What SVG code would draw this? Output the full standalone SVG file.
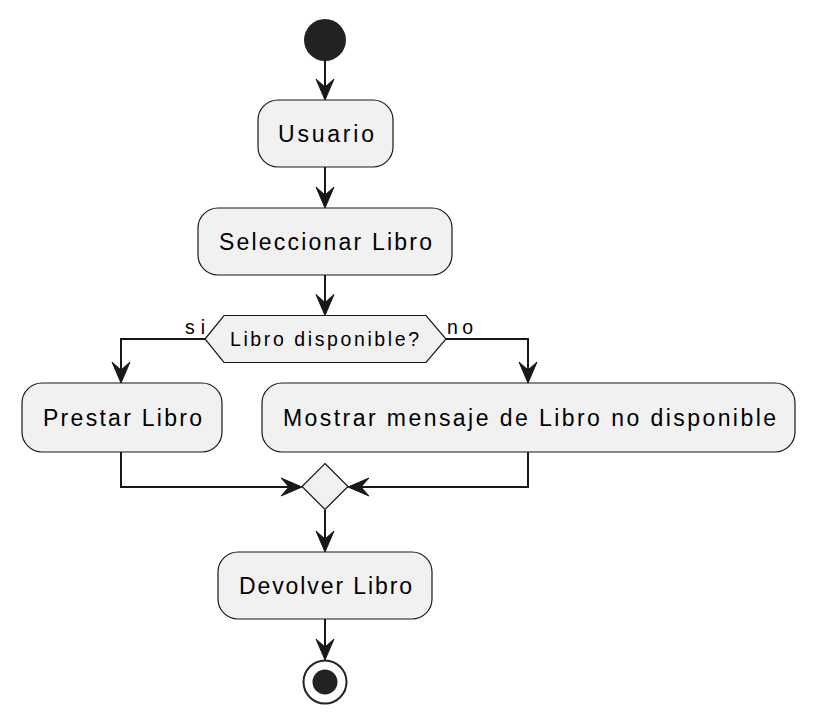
<svg xmlns="http://www.w3.org/2000/svg" width="818" height="724" viewBox="0 0 818 724">
<defs>
<style>
.box{fill:#F1F1F1;stroke:#181818;stroke-width:1.2}
.lbl{font-family:"Liberation Sans",Arial,sans-serif;font-size:23px;fill:#000}
.sm{font-family:"Liberation Sans",Arial,sans-serif;font-size:19.5px;fill:#000}
.ln{fill:none;stroke:#181818;stroke-width:2}
.ah{fill:#181818;stroke:#181818;stroke-width:1}
</style>
<polygon id="ah" points="0,0 -9,-21 0,-13 9,-21"/>
</defs>
<rect width="818" height="724" fill="#FFFFFF"/>
<g id="connectors">
<line class="ln" x1="325" y1="61" x2="325" y2="96"/>
<use href="#ah" class="ah" transform="translate(325,100)"/>
<line class="ln" x1="325" y1="167" x2="325" y2="204"/>
<use href="#ah" class="ah" transform="translate(325,208)"/>
<line class="ln" x1="325" y1="275" x2="325" y2="311"/>
<use href="#ah" class="ah" transform="translate(325,315.5)"/>
<polyline class="ln" points="205,339 121,339 121,379"/>
<use href="#ah" class="ah" transform="translate(121,383)"/>
<polyline class="ln" points="446,339 528,339 528,379"/>
<use href="#ah" class="ah" transform="translate(528,383)"/>
<polyline class="ln" points="121,452 121,487 298,487"/>
<use href="#ah" class="ah" transform="translate(302,487) rotate(-90)"/>
<polyline class="ln" points="528,452 528,487 352,487"/>
<use href="#ah" class="ah" transform="translate(348,487) rotate(90)"/>
<line class="ln" x1="325" y1="510" x2="325" y2="548"/>
<use href="#ah" class="ah" transform="translate(325,552)"/>
<line class="ln" x1="325" y1="619" x2="325" y2="656"/>
<use href="#ah" class="ah" transform="translate(325,660)"/>
<text class="sm" x="185" y="334" textLength="20" lengthAdjust="spacing">si</text>
<text class="sm" x="447" y="334" textLength="26" lengthAdjust="spacing">no</text>
</g>
<g id="start"><circle cx="325" cy="40" r="21" fill="#222222"/></g>
<g id="usuario">
<rect class="box" x="258" y="100" width="135" height="67" rx="20"/>
<text class="lbl" x="278" y="141.5" textLength="96" lengthAdjust="spacing">Usuario</text>
</g>
<g id="seleccionar">
<rect class="box" x="198" y="208" width="254" height="67" rx="20"/>
<text class="lbl" x="219" y="249.5" textLength="213" lengthAdjust="spacing">Seleccionar Libro</text>
</g>
<g id="decision">
<polygon class="box" points="205,339 224,315.5 426,315.5 446,339 426,362.5 224,362.5"/>
<text class="sm" x="230" y="346" textLength="189" lengthAdjust="spacing">Libro disponible?</text>
</g>
<g id="prestar">
<rect class="box" x="22" y="383" width="200" height="69" rx="20"/>
<text class="lbl" x="43" y="425.5" textLength="159" lengthAdjust="spacing">Prestar Libro</text>
</g>
<g id="mostrar">
<rect class="box" x="262" y="383" width="533" height="69" rx="20"/>
<text class="lbl" x="283" y="425.5" textLength="493" lengthAdjust="spacing">Mostrar mensaje de Libro no disponible</text>
</g>
<g id="merge">
<polygon class="box" points="325,463.5 348,486.5 325,509.5 302,486.5"/>
</g>
<g id="devolver">
<rect class="box" x="218" y="552" width="214" height="67" rx="20"/>
<text class="lbl" x="239" y="593.5" textLength="173" lengthAdjust="spacing">Devolver Libro</text>
</g>
<g id="end">
<circle cx="325" cy="682" r="21.5" fill="#FFFFFF" stroke="#222222" stroke-width="2"/>
<circle cx="325" cy="682" r="12.5" fill="#222222"/>
</g>
</svg>
